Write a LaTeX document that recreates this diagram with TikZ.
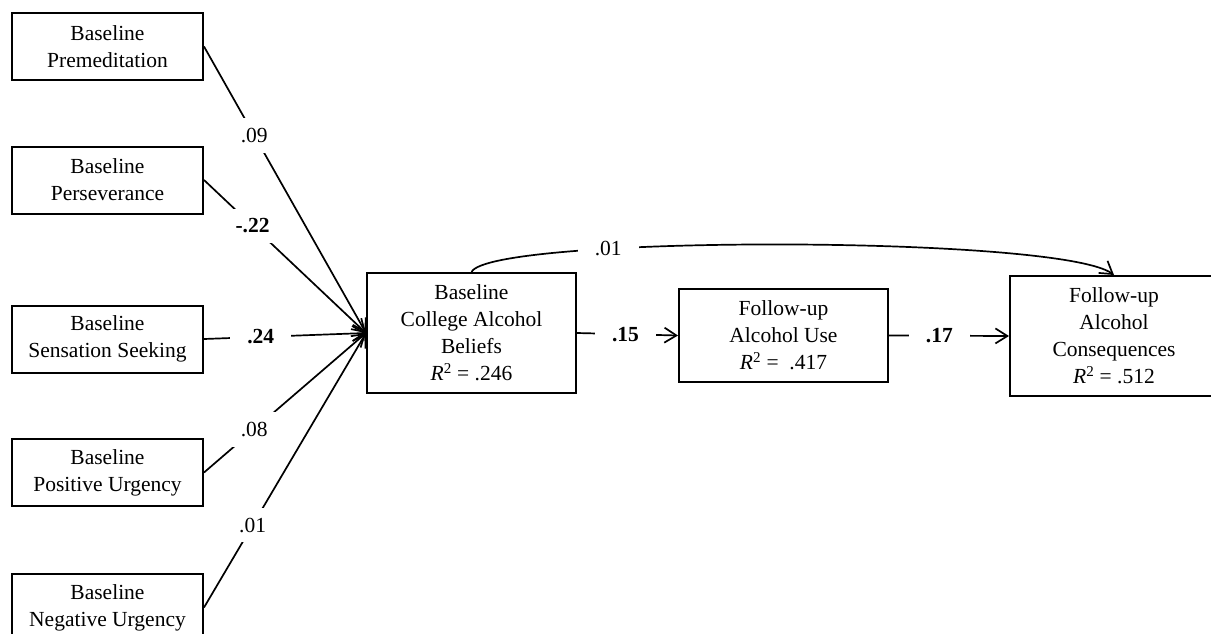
\documentclass[tikz,border=0pt]{standalone}
\usepackage{fontspec}
\setmainfont{Liberation Serif}
\usetikzlibrary{arrows.meta}
\newcommand{\Rsq}{\textit{R}\textsuperscript{2}}

\begin{document}
\begin{tikzpicture}[
  x=1pt, y=-1pt,
  every node/.style={font=\fontsize{21.5}{27}\selectfont},
  box/.style={rectangle, draw, line width=2pt, align=center, inner sep=2pt},
  pred/.style={box, minimum width=191pt, minimum height=67pt},
  arr/.style={-{Straight Barb[length=12pt, width=15pt, line width=1.7pt]}, line width=1.7pt},
  coef/.style={fill=white, inner xsep=17pt, inner ysep=10pt}]
\useasboundingbox (0,0) rectangle (1211,633);
\clip (0,0) rectangle (1211,633);
% predictors
\node[pred] (prem) at (107.5,46.5) {Baseline\\Premeditation};
\node[pred] (pers) at (107.5,180) {Baseline\\Perseverance};
\node[pred] (sens) at (107.5,339) {Baseline\\Sensation Seeking};
\node[pred] (posu) at (107.5,472.5) {Baseline\\Positive Urgency};
\node[pred] (negu) at (107.5,607.5) {Baseline\\Negative Urgency};
% mediators and outcome
\node[box, minimum width=209pt, minimum height=120pt] (beliefs) at (471.5,333)
  {Baseline\\College Alcohol\\Beliefs\\\Rsq{} = .246};
\node[box, minimum width=209pt, minimum height=93pt] (use) at (783.5,335.5)
  {Follow-up\\Alcohol Use\\\Rsq{} = \ .417};
\node[box, minimum width=208pt, minimum height=120pt] (cons) at (1114,336)
  {Follow-up\\Alcohol\\Consequences\\\Rsq{} = .512};
% paths
\draw[arr] (prem.east) -- node[coef, pos=0.31] {.09} (beliefs.west);
\draw[arr] (pers.east) -- node[coef, pos=0.30] {\textbf{-.22}} (beliefs.west);
\draw[arr] (sens.east) -- node[coef, pos=0.35] {\textbf{.24}} (beliefs.west);
\draw[arr] (posu.east) -- node[coef, pos=0.31] {.08} (beliefs.west);
\draw[arr] (negu.east) -- node[coef, pos=0.30] {.01} (beliefs.west);
\draw[arr] (beliefs.east) -- node[coef, pos=0.48] {\textbf{.15}} (use.west);
\draw[arr] (use.east) -- node[coef, pos=0.42] {\textbf{.17}} (cons.west);
\draw[arr] (beliefs.north) .. controls (490,235) and (1060,235) .. node[coef, pos=0.3] {.01} (cons.north);
\end{tikzpicture}
\end{document}
